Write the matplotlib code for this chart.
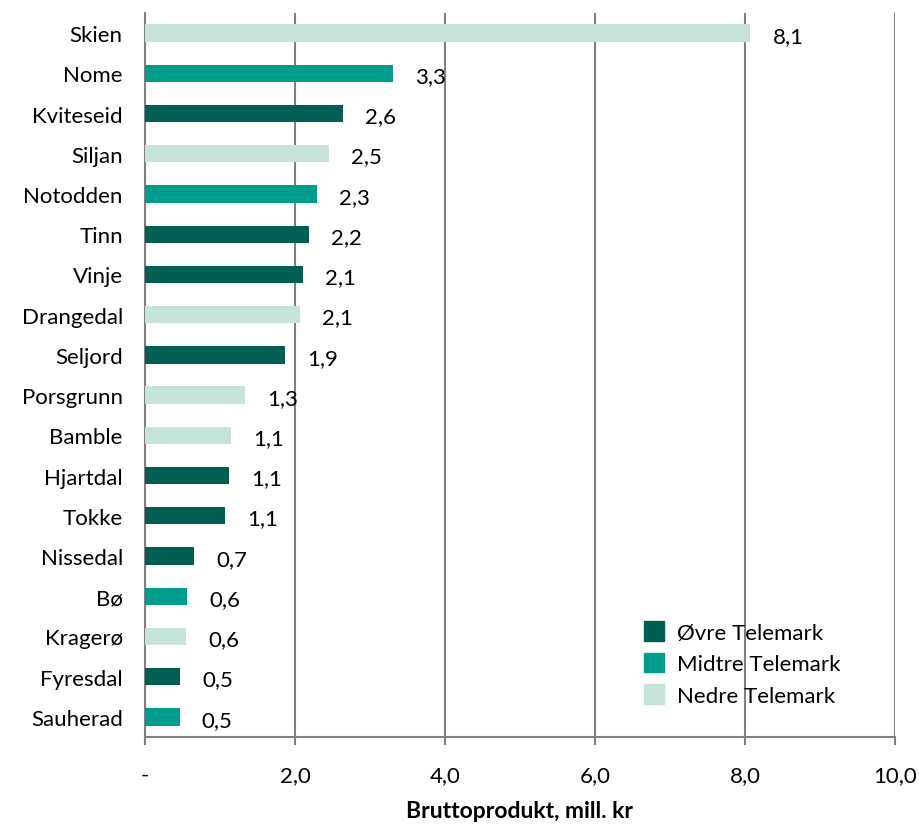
import numpy as np
import matplotlib.pyplot as plt
from matplotlib.patches import Patch

plt.rcParams["font.family"] = ["Lato", "DejaVu Sans"]

# Data, top to bottom as shown
kommuner = ["Skien", "Nome", "Kviteseid", "Siljan", "Notodden", "Tinn", "Vinje",
            "Drangedal", "Seljord", "Porsgrunn", "Bamble", "Hjartdal", "Tokke",
            "Nissedal", "Bø", "Kragerø", "Fyresdal", "Sauherad"]
verdier = [8.07, 3.31, 2.64, 2.45, 2.29, 2.19, 2.11, 2.06, 1.87, 1.33, 1.15,
           1.12, 1.07, 0.65, 0.56, 0.55, 0.47, 0.46]
region = ["Nedre", "Midtre", "Øvre", "Nedre", "Midtre", "Øvre", "Øvre",
          "Nedre", "Øvre", "Nedre", "Nedre", "Øvre", "Øvre",
          "Øvre", "Midtre", "Nedre", "Øvre", "Midtre"]
xticks = [0, 2, 4, 6, 8, 10]
xticklabels = ["-", "2,0", "4,0", "6,0", "8,0", "10,0"]

farger = {"Øvre": "#005f52", "Midtre": "#009d8f", "Nedre": "#c6e3d7"}
legend_navn = {"Øvre": "Øvre Telemark", "Midtre": "Midtre Telemark", "Nedre": "Nedre Telemark"}

fig = plt.figure(figsize=(9.19, 8.28), dpi=100)
ax = fig.add_axes([145 / 919, 1 - 738 / 828, 750 / 919, 724 / 828])

y = np.arange(len(kommuner))
ax.barh(y, verdier, height=0.43, color=[farger[r] for r in region], zorder=3)
for yi, v in zip(y, verdier):
    ax.annotate(f"{v:.1f}".replace(".", ","), (v, yi), xytext=(16, -2),
                textcoords="offset points", ha="left", va="center", fontsize=16)

ax.set_ylim(len(kommuner) - 0.5, -0.5)
ax.set_xlim(0, 10)
ax.set_xticks(xticks)
ax.set_xticklabels(xticklabels, fontsize=16)
ax.set_yticks(y)
ax.set_yticklabels(kommuner, fontsize=16)
ax.tick_params(axis="y", length=0, pad=16)
ax.tick_params(axis="x", length=6, width=1.5, color="#808080", pad=14, direction="out")
ax.grid(axis="x", color="#808080", linewidth=1.5, zorder=0)
for s in ["top", "right"]:
    ax.spines[s].set_visible(False)
for s in ["left", "bottom"]:
    ax.spines[s].set_color("#808080")
    ax.spines[s].set_linewidth(1.5)
ax.set_xlabel("Bruttoprodukt, mill. kr", fontsize=16.5, fontweight="bold", labelpad=11)

handles = [Patch(color=farger[k], label=legend_navn[k]) for k in ["Øvre", "Midtre", "Nedre"]]
ax.legend(handles=handles, loc="lower left", bbox_to_anchor=(0.65, 0.028), frameon=False,
          fontsize=16, handlelength=0.9, handleheight=1.0, labelspacing=0.45,
          handletextpad=0.6, borderpad=0)

fig.savefig("out.png", dpi=100)
